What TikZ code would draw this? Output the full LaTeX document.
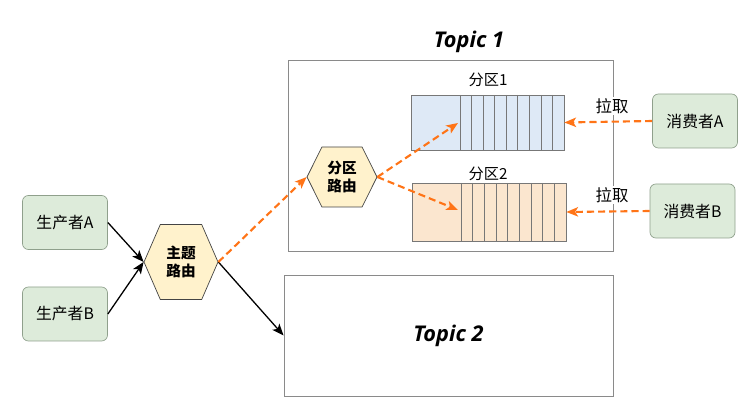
\documentclass[tikz,border=0pt]{standalone}
\usepackage{fontspec}
\setmainfont{Noto Sans CJK SC}
\newfontfamily\topicfont{Open Sans}
\usetikzlibrary{arrows.meta, positioning, shapes.symbols}

\definecolor{greenfill}{HTML}{DDEBDA}
\definecolor{greenline}{HTML}{8FA08C}
\definecolor{yellowfill}{HTML}{FFF2CC}
\definecolor{darkline}{HTML}{444444}
\definecolor{bluefill}{HTML}{DEE9F6}
\definecolor{peachfill}{HTML}{FBE6CF}
\definecolor{cellline}{HTML}{777777}
\definecolor{boxline}{HTML}{8A8A8A}
\definecolor{pullorange}{HTML}{FF7417}

\begin{document}
\begin{tikzpicture}[
    x=0.03cm, y=-0.03cm,
    every node/.style={font=\fontsize{13.5}{15}\selectfont},
    agent/.style={draw=greenline, fill=greenfill, rounded corners=5pt,
        minimum width=2.55cm, minimum height=1.62cm, line width=0.6pt},
    router/.style={shape=signal, signal to=west and east, draw=darkline,
        fill=yellowfill, align=center, inner sep=0pt, line width=0.6pt,
        font=\fontsize{12.5}{16}\selectfont\bfseries},
    topicbox/.style={draw=boxline, line width=0.7pt},
    partbox/.style={draw=cellline, line width=0.6pt, minimum height=1.65cm},
    flow/.style={-{Stealth[length=10pt, width=8pt, inset=2.5pt]}, line width=1.1pt},
    route/.style={flow, pullorange, line width=1.8pt, dash pattern=on 6pt off 3.5pt},
]

\useasboundingbox (0,0) rectangle (749,404);

% ---------------------------------------------------------------- topics
\node[topicbox, minimum width=9.75cm, minimum height=5.73cm] (t1) at (450.5,155.5) {};
\node[font=\topicfont\fontsize{18.5}{20}\selectfont\bfseries\itshape] (t1title) at (469,42) {Topic 1};
\node[topicbox, minimum width=9.87cm, minimum height=3.63cm,
    font=\topicfont\fontsize{18.5}{20}\selectfont\bfseries\itshape] (t2) at (448.5,335.5) {Topic 2};

% ---------------------------------------------------------------- producers and consumers
\node[agent] (pa) at (65,222.5) {生产者A};
\node[agent] (pb) at (65,314) {生产者B};
\node[agent] (ca) at (695,121) {消费者A};
\node[agent] (cb) at (692.5,211) {消费者B};

% ---------------------------------------------------------------- routers
\node[router, minimum width=2.22cm, minimum height=2.25cm, signal pointer angle=133] (topic) at (181,262) {主题\\路由};
\node[router, minimum width=2.10cm, minimum height=1.80cm, signal pointer angle=127] (part) at (342,177) {分区\\路由};

% ---------------------------------------------------------------- partitions
\node[partbox, fill=bluefill, minimum width=4.59cm] (p1) at (487.5,122.5) {};
\node[partbox, fill=peachfill, minimum width=4.62cm, minimum height=1.74cm] (p2) at (489,212) {};
\foreach \c in {0,...,8} {
    \draw[cellline, line width=0.6pt] (460+\c*11.56,95) -- (460+\c*11.56,150);
    \draw[cellline, line width=0.6pt] (461+\c*11.67,183) -- (461+\c*11.67,241);
}
\node[font=\fontsize{13}{15}\selectfont] (p1label) at (488,80) {分区1};
\node[font=\fontsize{13}{15}\selectfont] (p2label) at (488,174) {分区2};
\coordinate (p1in) at (458,123);
\coordinate (p2in) at (458,210);

% ---------------------------------------------------------------- arrows
\draw[flow] (pa.east) -- (topic.west);
\draw[flow] (pb.east) -- (topic.west);
\draw[flow] (topic.east) -- (t2.west);
\draw[route] (topic.east) -- (part.west);
\draw[route] (part.east) -- (p1in);
\draw[route] (part.east) -- (p2in);
\draw[route] (ca.west) -- (p1.east);
\draw[route] (cb.west) -- (p2.east);

\node[fill=white, inner sep=1pt, font=\fontsize{14}{16}\selectfont] (pulla) at (612,106) {拉取};
\node[fill=white, inner sep=1pt, font=\fontsize{14}{16}\selectfont] (pullb) at (612,195) {拉取};

\end{tikzpicture}
\end{document}
